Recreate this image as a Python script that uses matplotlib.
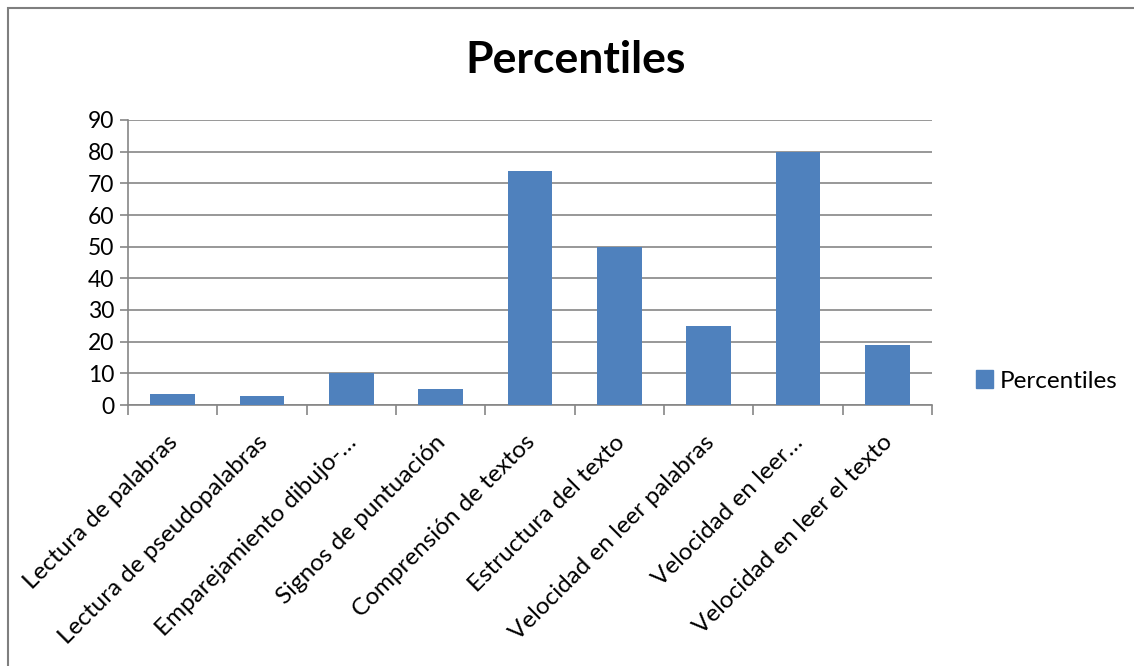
import matplotlib
matplotlib.use('Agg')
import matplotlib.pyplot as plt
from matplotlib.patches import Rectangle, Patch
import numpy as np

plt.rcParams['font.family'] = ['Lato', 'DejaVu Sans']

categories = ['Lectura de palabras', 'Lectura de pseudopalabras', 'Emparejamiento dibujo-…',
              'Signos de puntuación', 'Comprensión de textos', 'Estructura del texto',
              'Velocidad en leer palabras', 'Velocidad en leer…', 'Velocidad en leer el texto']
values = [3.5, 3, 10, 5, 74, 50, 25, 80, 19]
yticks = [0, 10, 20, 30, 40, 50, 60, 70, 80, 90]

bar_color = '#4F81BD'
grid_color = '#868686'

fig = plt.figure(figsize=(11.34, 6.66), dpi=100)
ax = fig.add_axes([128/1134, 1 - 405/666, (932 - 128)/1134, (405 - 120)/666])

x = np.arange(len(categories))
ax.bar(x, values, width=0.5, color=bar_color, zorder=3)

ax.set_xlim(-0.5, len(categories) - 0.5)
ax.set_ylim(0, 90)
ax.set_yticks(yticks)
ax.yaxis.grid(True, color=grid_color, linewidth=1.2, zorder=0)

# ticks on category boundaries
ax.set_xticks(np.arange(len(categories) + 1) - 0.5)
ax.set_xticklabels([])
ax.tick_params(axis='x', length=7, width=1.2, color=grid_color)
ax.tick_params(axis='y', length=6, width=1.2, color=grid_color, labelsize=16.5, pad=4)
for i, lab in enumerate(categories):
    ax.annotate(lab, xy=(i, 0), xycoords=('data', 'axes fraction'),
                xytext=(-4, -19), textcoords='offset points',
                rotation=45, ha='right', va='top', rotation_mode='anchor', fontsize=17.5)

for s in ['top', 'right']:
    ax.spines[s].set_visible(False)
for s in ['left', 'bottom']:
    ax.spines[s].set_color(grid_color)
    ax.spines[s].set_linewidth(1.2)

fig.text(576/1134, 1 - 60/666, 'Percentiles', ha='center', va='center',
         fontsize=32, fontweight='bold')

fig.legend(handles=[Patch(color=bar_color, label='Percentiles')],
           loc='center left', bbox_to_anchor=(954/1134, 1 - 381/666),
           frameon=False, fontsize=17.5, handlelength=0.7, handleheight=0.7,
           handletextpad=0.3)

# outer chart border
fig.add_artist(Rectangle((8/1134, -0.01), 1.1, 1 - 8/666 + 0.01, transform=fig.transFigure,
                         fill=False, edgecolor='#7f7f7f', linewidth=1.5))

fig.savefig('out.png', dpi=100)
